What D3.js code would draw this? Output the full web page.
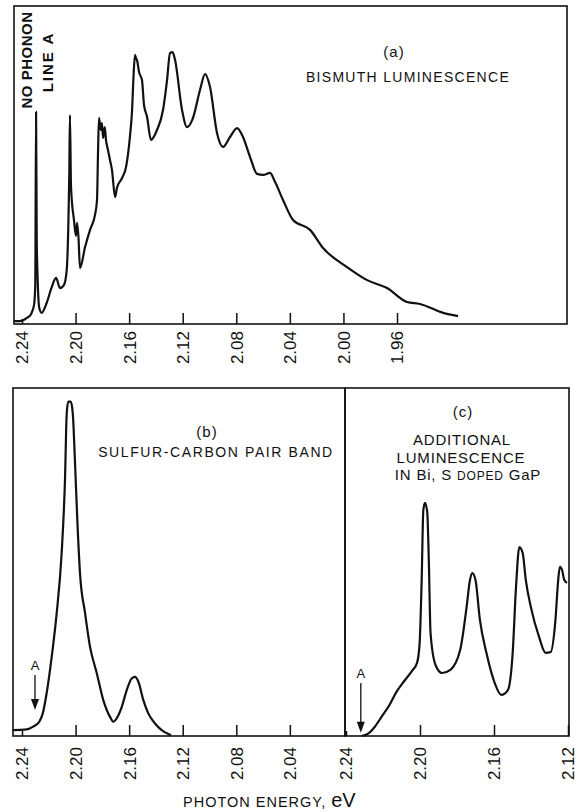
<!DOCTYPE html>
<html>
<head>
<meta charset="utf-8">
<script src="https://cdn.jsdelivr.net/npm/d3@7"></script>
<style>
  html, body { margin: 0; padding: 0; background: #fff; }
  svg { display: block; }
  text { font-family: "Liberation Sans", Arial, sans-serif; fill: #111; }
  .curve { fill: none; stroke: #111; stroke-width: 2.2px; stroke-linejoin: round; }
  .frame { fill: none; stroke: #111; stroke-width: 1.6px; }
  .axis line { stroke: #111; stroke-width: 1.5px; }
  .axis text { font-size: 17px; font-family: "Liberation Sans", Arial, sans-serif; }
</style>
</head>
<body>
<div id="chart-container"></div>
<script>
// Panel (a): bismuth luminescence (photon energy in eV, relative intensity 0-100)
const energyA = [2.2460, 2.2415, 2.2363, 2.2333, 2.2310, 2.2301, 2.2295, 2.2290, 2.2284, 2.2271,
    2.2253, 2.2216, 2.2178, 2.2146, 2.2116, 2.2086, 2.2066, 2.2054, 2.2047, 2.2042,
    2.2034, 2.2012, 2.1997, 2.1989, 2.1978, 2.1967, 2.1929, 2.1892, 2.1855, 2.1840,
    2.1832, 2.1825, 2.1812, 2.1803, 2.1795, 2.1782, 2.1773, 2.1758, 2.1743, 2.1728,
    2.1705, 2.1691, 2.1653, 2.1623, 2.1593, 2.1578, 2.1567, 2.1556, 2.1549, 2.1541,
    2.1526, 2.1504, 2.1489, 2.1466, 2.1437, 2.1392, 2.1347, 2.1317, 2.1295, 2.1276,
    2.1257, 2.1205, 2.1168, 2.1123, 2.1071, 2.1033, 2.0996, 2.0944, 2.0899, 2.0847,
    2.0794, 2.0750, 2.0697, 2.0645, 2.0600, 2.0548, 2.0511, 2.0451, 2.0376, 2.0249,
    2.0152, 1.9973, 1.9823, 1.9674, 1.9525, 1.9428, 1.9256, 1.9144];
const intensityA = [0.9, 0.9, 1.9, 3.1, 6.0, 12.3, 66.7, 26.4, 15.4, 5.0,
    3.5, 6.6, 11.6, 14.5, 11.3, 12.3, 17.0, 31.1, 46.9, 65.7,
    43.1, 32.7, 27.7, 31.8, 27.0, 17.6, 24.2, 29.6, 34.3, 39.0,
    54.7, 64.8, 61.0, 63.2, 58.5, 61.9, 57.9, 54.7, 51.6, 48.4,
    39.9, 42.8, 45.9, 49.4, 59.4, 67.3, 78.3, 84.6, 83.6, 83.0,
    79.2, 76.7, 68.9, 65.1, 57.9, 61.0, 67.3, 76.7, 85.2, 85.5,
    83.0, 67.3, 61.9, 64.8, 73.6, 78.6, 74.5, 60.1, 55.7, 58.8,
    61.6, 58.8, 52.5, 47.2, 46.9, 47.5, 44.7, 39.0, 32.7, 29.6,
    23.9, 17.9, 13.8, 11.3, 6.9, 6.3, 3.5, 2.5];

// Panel (b): sulfur-carbon pair band
const energyB = [2.2469, 2.2365, 2.2316, 2.2271, 2.2245, 2.2216, 2.2178, 2.2141, 2.2104, 2.2079,
    2.2066, 2.2054, 2.2036, 2.2021, 2.2004, 2.1987, 2.1967, 2.1929, 2.1892, 2.1842,
    2.1793, 2.1743, 2.1718, 2.1693, 2.1655, 2.1618, 2.1581, 2.1556, 2.1531, 2.1494,
    2.1457, 2.1407, 2.1357, 2.1307, 2.1287];
const intensityB = [1.7, 1.9, 2.7, 4.1, 6.5, 12.3, 22.8, 35.3, 52.5, 73.6,
    92.8, 96.1, 96.1, 92.8, 78.4, 62.1, 46.8, 35.3, 25.6, 18.1,
    10.3, 5.5, 4.1, 5.1, 8.4, 13.2, 16.5, 17.0, 15.6, 10.3,
    6.5, 3.6, 1.7, 0.6, 0.3];

// Panel (c): additional luminescence in Bi,S doped GaP
const energyC = [2.2315, 2.2283, 2.2245, 2.2208, 2.2165, 2.2128, 2.2085, 2.2043, 2.2016, 2.2002,
    2.1991, 2.1982, 2.1973, 2.1961, 2.1952, 2.1943, 2.1916, 2.1881, 2.1836, 2.1783,
    2.1748, 2.1730, 2.1717, 2.1700, 2.1676, 2.1641, 2.1596, 2.1561, 2.1525, 2.1499,
    2.1481, 2.1463, 2.1445, 2.1428, 2.1401, 2.1356, 2.1321, 2.1294, 2.1268, 2.1253,
    2.1244, 2.1232, 2.1220, 2.1205];
const intensityC = [0, 0.6, 2.6, 5.5, 8.9, 12.6, 15.8, 18.7, 21.0, 26.7,
    44.8, 64.9, 67.0, 64.4, 49.7, 29.6, 20.4, 18.1, 19.0, 24.7,
    37.1, 44.8, 46.8, 44.8, 33.3, 23.9, 15.2, 11.8, 13.2, 23.9,
    42.8, 54.3, 52.6, 44.8, 37.1, 28.4, 23.9, 24.1, 33.3, 44.8,
    48.6, 47.7, 44.8, 44.0];

// Tick values
const ticksA = [2.24, 2.20, 2.16, 2.12, 2.08, 2.04, 2.00, 1.96];
const ticksB = [2.24, 2.20, 2.16, 2.12, 2.08, 2.04];
const ticksC = [2.24, 2.20, 2.16, 2.12];

const svg = d3.select('#chart-container')
    .append('svg')
    .attr('width', 578)
    .attr('height', 812);

/**
 * Draw one framed panel with inward ticks, rotated labels and the curve
 */
function drawPanel(p) {
    const x = d3.scaleLinear().domain(p.domain).range(p.range);
    const y = d3.scaleLinear().domain([0, 100]).range([p.bottom, p.top]);
    const g = svg.append('g');

    g.append('rect')
        .attr('class', 'frame')
        .attr('x', p.left)
        .attr('y', p.top)
        .attr('width', p.right - p.left)
        .attr('height', p.bottom - p.top);

    const axis = d3.axisBottom(x)
        .tickValues(p.ticks)
        .tickSizeInner(-11)
        .tickSizeOuter(0)
        .tickFormat(d3.format('.2f'));

    const ax = g.append('g')
        .attr('class', 'axis')
        .attr('transform', `translate(0,${p.bottom})`)
        .call(axis);
    ax.select('.domain').remove();
    // the 2.24 mark is only a short stub
    ax.selectAll('.tick line').attr('y2', d => d === 2.24 ? -5 : -11);
    ax.selectAll('.tick text')
        .attr('transform', 'rotate(-90)')
        .attr('x', -p.labelGap)
        .attr('y', 0)
        .attr('dy', '0.35em')
        .style('text-anchor', 'end');

    const points = p.energy.map((e, i) => [e, p.intensity[i]]);
    const line = d3.line()
        .x(d => x(d[0]))
        .y(d => y(d[1]))
        .curve(d3.curveMonotoneX);
    g.append('path')
        .datum(points)
        .attr('class', 'curve')
        .attr('d', line);

    return { x, y, g };
}

/**
 * "A" marker with a downward arrow
 */
function drawArrow(panel, energy, labelAt, fromAt, tipAt) {
    const ax = panel.x(energy);
    const yLabel = panel.y(labelAt);
    const yFrom = panel.y(fromAt);
    const yTip = panel.y(tipAt);
    panel.g.append('text')
        .attr('x', ax)
        .attr('y', yLabel)
        .attr('text-anchor', 'middle')
        .style('font-size', '13px')
        .text('A');
    panel.g.append('line')
        .attr('x1', ax).attr('x2', ax)
        .attr('y1', yFrom).attr('y2', yTip - 8)
        .attr('stroke', '#111')
        .attr('stroke-width', 1.3);
    panel.g.append('path')
        .attr('d', `M${ax - 4},${yTip - 11} L${ax + 4},${yTip - 11} L${ax},${yTip} Z`)
        .attr('fill', '#111');
}

function addText(x, y, str, size, spacing) {
    return svg.append('text')
        .attr('x', x)
        .attr('y', y)
        .attr('text-anchor', 'middle')
        .style('font-size', size + 'px')
        .style('letter-spacing', spacing + 'px')
        .text(str);
}

// Panel (a)
const panelA = drawPanel({
    left: 14, right: 567, top: 6, bottom: 324,
    domain: [2.24, 1.96], range: [22, 397],
    ticks: ticksA, labelGap: 7,
    energy: energyA, intensity: intensityA
});

// Panel (b)
const panelB = drawPanel({
    left: 13, right: 345, top: 388, bottom: 736,
    domain: [2.24, 1.96], range: [22, 397],
    ticks: ticksB, labelGap: 11,
    energy: energyB, intensity: intensityB
});

// Panel (c)
const panelC = drawPanel({
    left: 345, right: 569, top: 388, bottom: 736,
    domain: [2.24, 2.12], range: [346, 568],
    ticks: ticksC, labelGap: 11,
    energy: energyC, intensity: intensityC
});

drawArrow(panelB, 2.2303, 19, 17.5, 7.5);
drawArrow(panelC, 2.2320, 16.7, 15.2, 0.9);

// Panel titles
addText(394, 57, '(a)', 15, 1);
addText(408, 82, 'BISMUTH LUMINESCENCE', 14, 1.3);

addText(207, 437, '(b)', 15, 1);
addText(216, 457, 'SULFUR-CARBON PAIR BAND', 14, 1.6);

addText(463, 417, '(c)', 15, 1);
addText(462, 445, 'ADDITIONAL', 15, 0.8);
addText(461, 463, 'LUMINESCENCE', 15, 0.8);
const lastLine = addText(468, 480, '', 15, 0.8);
lastLine.append('tspan').text('IN Bi, S ');
lastLine.append('tspan').style('font-size', '12px').text('DOPED');
lastLine.append('tspan').text(' GaP');

// Rotated "NO PHONON LINE A" note
svg.append('text')
    .attr('transform', 'translate(32,60) rotate(-90)')
    .attr('text-anchor', 'middle')
    .style('font-size', '15px')
    .style('font-weight', 'bold')
    .style('letter-spacing', '0.5px')
    .text('NO PHONON');
svg.append('text')
    .attr('transform', 'translate(53,62) rotate(-90)')
    .attr('text-anchor', 'middle')
    .style('font-size', '15px')
    .style('font-weight', 'bold')
    .style('letter-spacing', '2px')
    .text('LINE A');

// Shared x-axis title
const title = svg.append('text')
    .attr('x', 183)
    .attr('y', 807)
    .style('font-size', '14.5px')
    .style('letter-spacing', '1px');
title.append('tspan').text('PHOTON ENERGY, ');
title.append('tspan').style('font-size', '20px').style('letter-spacing', '0px').text('eV');
</script>
</body>
</html>
